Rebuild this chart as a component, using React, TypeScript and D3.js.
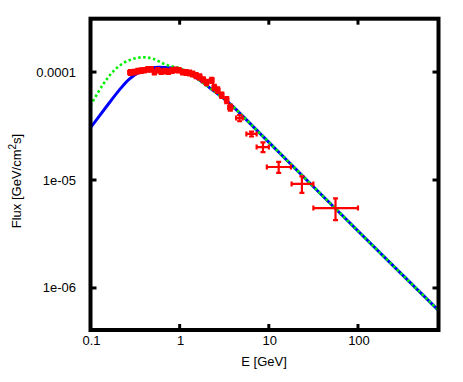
import React from "react";
import * as d3 from "d3";

// model curves (E in GeV, flux in GeV/cm^2/s)
const blueE = [0.1, 0.149, 0.21, 0.272, 0.352, 0.498, 0.70, 1.0, 1.55, 2.35, 3.65, 7.9, 97.5, 800];
const blueF = [3.05e-5, 4.72e-5, 6.8e-5, 8.6e-5, 1.0e-4, 1.096e-4, 1.1e-4, 1.07e-4, 8.8e-5, 6.8e-5, 5.1e-5, 2.72e-5, 3.44e-6, 6.2e-7];

const greenE = [0.1, 0.137, 0.177, 0.23, 0.297, 0.385, 0.498, 0.70, 1.0, 1.4, 2.35, 3.65, 7.9, 97.5, 800];
const greenF = [4.9e-5, 7.6e-5, 1.0e-4, 1.2e-4, 1.32e-4, 1.37e-4, 1.33e-4, 1.17e-4, 1.08e-4, 9.3e-5, 6.8e-5, 5.1e-5, 2.72e-5, 3.44e-6, 6.2e-7];

// measured points with error bars
const dataE = [0.28, 0.31, 0.34, 0.37, 0.40, 0.44, 0.48, 0.52, 0.57, 0.62, 0.68, 0.75, 0.82, 0.90, 0.98, 1.08, 1.18, 1.29, 1.40, 1.53, 1.68, 1.84, 2.0, 2.29, 2.45, 2.67, 2.97, 3.37, 3.7, 4.7, 6.4, 8.6, 12.9, 23.5, 56];
const dataELo = [0.265, 0.295, 0.325, 0.355, 0.38, 0.42, 0.46, 0.50, 0.545, 0.595, 0.65, 0.72, 0.785, 0.86, 0.94, 1.03, 1.13, 1.23, 1.34, 1.46, 1.60, 1.76, 1.91, 2.19, 2.34, 2.55, 2.83, 3.22, 3.5, 4.3, 5.6, 7.3, 9.5, 18, 31.6];
const dataEHi = [0.295, 0.325, 0.355, 0.385, 0.42, 0.46, 0.50, 0.545, 0.595, 0.65, 0.71, 0.785, 0.86, 0.94, 1.03, 1.13, 1.23, 1.35, 1.46, 1.60, 1.76, 1.92, 2.09, 2.4, 2.56, 2.8, 3.1, 3.52, 3.9, 5.1, 7.3, 10, 17.7, 31.6, 100];
const dataF = [9.9e-5, 1.0e-4, 1.02e-4, 1.03e-4, 1.04e-4, 1.06e-4, 1.06e-4, 1.0e-4, 1.04e-4, 1.01e-4, 1.02e-4, 1.01e-4, 1.03e-4, 1.05e-4, 1.04e-4, 1.0e-4, 9.9e-5, 9.8e-5, 9.6e-5, 9.3e-5, 9.0e-5, 8.5e-5, 8.0e-5, 8.4e-5, 7.2e-5, 6.8e-5, 6.1e-5, 5.5e-5, 4.7e-5, 3.75e-5, 2.67e-5, 2.02e-5, 1.32e-5, 9.2e-6, 5.5e-6];
const dataFErr = [5e-6, 5e-6, 5e-6, 5e-6, 5e-6, 5e-6, 5e-6, 5e-6, 5e-6, 5e-6, 5e-6, 5e-6, 5e-6, 5e-6, 5e-6, 5e-6, 5e-6, 5e-6, 5e-6, 5e-6, 5e-6, 4.5e-6, 4.5e-6, 4.5e-6, 4e-6, 4e-6, 3.5e-6, 3.5e-6, 3e-6, 2.5e-6, 1.4e-6, 2.1e-6, 1.55e-6, 1.6e-6, 1.25e-6];

const xTicks = [0.1, 1, 10, 100];
const xTickLabels = ["0.1", "1", "10", "100"];
const yTicks = [1e-4, 1e-5, 1e-6];
const yTickLabels = ["0.0001", "1e-05", "1e-06"];

const W = 463;
const H = 382;
const left = 90.5;
const right = 438.5;
const top = 18.7;
const bottom = 330;
const font = "'Liberation Sans', Arial, sans-serif";

export default function App() {
  const x = d3.scaleLog().domain([0.1, 800]).range([left, right]);
  const y = d3.scaleLog().domain([4.08e-7, 3.12e-4]).range([bottom, top]);

  const line = d3
    .line<[number, number]>()
    .x(d => x(d[0]))
    .y(d => y(d[1]))
    .curve(d3.curveCatmullRom.alpha(0.5));

  const blue = line(blueE.map((e, i) => [e, blueF[i]]));
  const green = line(greenE.map((e, i) => [e, greenF[i]]));

  const cap = 2.5;

  return (
    <svg width={W} height={H} style={{ position: "absolute", left: 0, top: 0 }}>
      <rect width={W} height={H} fill="#fff" />
      <defs>
        <clipPath id="plot">
          <rect x={left} y={top} width={right - left} height={bottom - top} />
        </clipPath>
      </defs>
      <g clipPath="url(#plot)">
        <path d={blue || ""} fill="none" stroke="#0000ff" strokeWidth={3} />
        <path d={green || ""} fill="none" stroke="#00ee00" strokeWidth={2.6} strokeDasharray="2.5,2.5" />
        <g stroke="#ff0000" strokeWidth={2.2} fill="none">
          {dataE.map((e, i) => {
            const cx = x(e);
            const cy = y(dataF[i]);
            const x0 = x(dataELo[i]);
            const x1 = x(dataEHi[i]);
            const y0 = y(dataF[i] - dataFErr[i]);
            const y1 = y(dataF[i] + dataFErr[i]);
            return (
              <g key={i}>
                <line x1={x0} x2={x1} y1={cy} y2={cy} />
                <line x1={cx} x2={cx} y1={y0} y2={y1} />
                <line x1={x0} x2={x0} y1={cy - cap} y2={cy + cap} />
                <line x1={x1} x2={x1} y1={cy - cap} y2={cy + cap} />
                <line x1={cx - cap} x2={cx + cap} y1={y0} y2={y0} />
                <line x1={cx - cap} x2={cx + cap} y1={y1} y2={y1} />
              </g>
            );
          })}
        </g>
      </g>

      {/* ticks */}
      <g stroke="#000" strokeWidth={3}>
        {xTicks.slice(1).map(t => (
          <g key={t}>
            <line x1={x(t)} x2={x(t)} y1={bottom} y2={bottom - 6} />
            <line x1={x(t)} x2={x(t)} y1={top} y2={top + 6} />
          </g>
        ))}
        {yTicks.map(t => (
          <g key={t}>
            <line x1={left} x2={left + 6} y1={y(t)} y2={y(t)} />
            <line x1={right} x2={right - 6} y1={y(t)} y2={y(t)} />
          </g>
        ))}
      </g>
      <rect x={left} y={top} width={right - left} height={bottom - top} fill="none" stroke="#000" strokeWidth={4} />

      <g fontFamily={font} fontSize={13} fill="#000">
        {xTicks.map((t, i) => (
          <text key={t} x={x(t) + 1} y={345} textAnchor="middle">
            {xTickLabels[i]}
          </text>
        ))}
        {yTicks.map((t, i) => (
          <text key={t} x={76} y={y(t) + 4.5} textAnchor="end">
            {yTickLabels[i]}
          </text>
        ))}
        <text x={264} y={366} textAnchor="middle">E [GeV]</text>
        <text transform="translate(21,181) rotate(-90)" textAnchor="middle">
          Flux [GeV/cm
          <tspan dy={-5} fontSize={10}>2</tspan>
          <tspan dy={5}>s]</tspan>
        </text>
      </g>
    </svg>
  );
}
